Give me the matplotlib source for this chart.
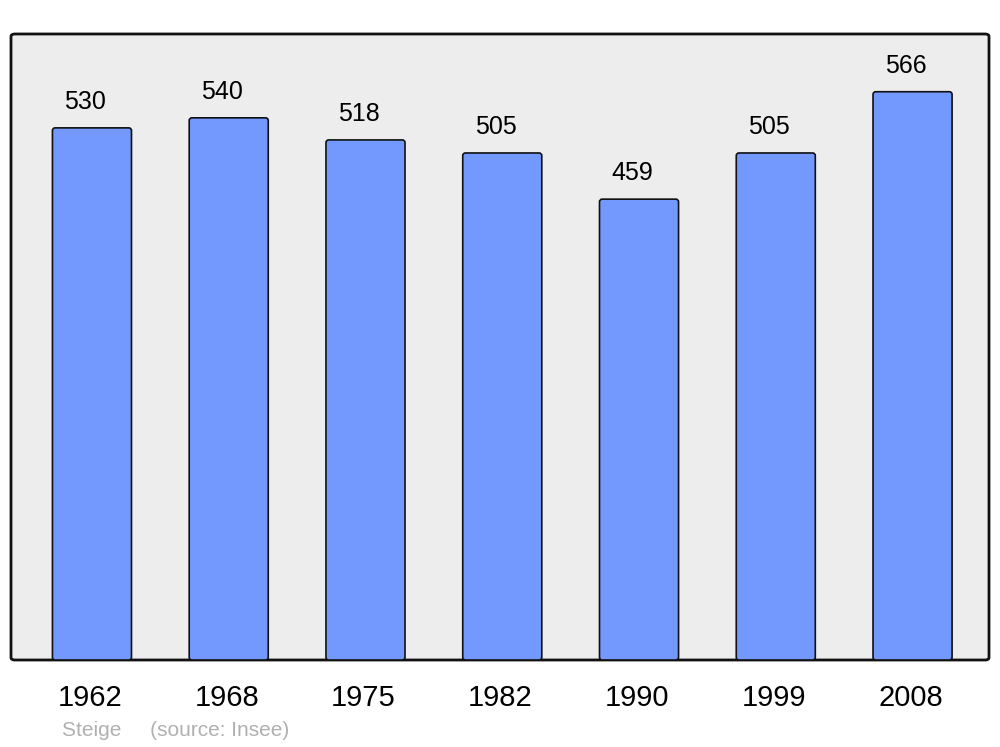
import matplotlib
matplotlib.use("Agg")
import matplotlib.pyplot as plt
from matplotlib.patches import FancyBboxPatch
from matplotlib.transforms import blended_transform_factory

years = ["1962", "1968", "1975", "1982", "1990", "1999", "2008"]
population = [530, 540, 518, 505, 459, 505, 566]

plt.rcParams['font.family'] = ['Liberation Sans', 'DejaVu Sans']

fig = plt.figure(figsize=(10, 7.47), dpi=100)
W, H = 1000, 747
ax = fig.add_axes([11 / W, 1 - 660 / H, 978 / W, (660 - 34) / H])
ax.set_facecolor('none')
ax.set_xlim(-0.592, 6.559)
ax.set_ylim(0, 623.5)

# rounded frame background
bg = FancyBboxPatch((0, 0), 1, 1, boxstyle="round,pad=0,rounding_size=0.004",
                    transform=ax.transAxes, facecolor='#ededed', edgecolor='#111111',
                    linewidth=2, zorder=0, clip_on=False)
ax.add_patch(bg)

x = list(range(len(years)))
for xi, v in zip(x, population):
    bar = FancyBboxPatch((xi - 0.289, 0), 0.578, v,
                         boxstyle="round,pad=0,rounding_size=0.02",
                         mutation_aspect=137,
                         facecolor='#7399ff', edgecolor='#111111', linewidth=1.2, zorder=2)
    ax.add_patch(bar)
    ax.annotate(str(v), (xi, v), xytext=(-4.8, 13.7), textcoords='offset points',
                ha='center', va='baseline', fontsize=18, color='#000000')

for s in ax.spines.values():
    s.set_visible(False)
ax.set_xticks([])
ax.set_yticks([])

trans = blended_transform_factory(ax.transData, ax.transAxes)
for xi, yr in zip(x, years):
    ax.annotate(yr, (xi, 0), xycoords=trans, xytext=(-1.5, -33), textcoords='offset points',
                ha='center', va='baseline', fontsize=21, color='#000000', annotation_clip=False)

fig.text(62 / W, 1 - 736 / H, "Steige     (source: Insee)", fontsize=15,
         color='#b0b0b0', ha='left', va='baseline')

fig.savefig("out.png", dpi=100)
